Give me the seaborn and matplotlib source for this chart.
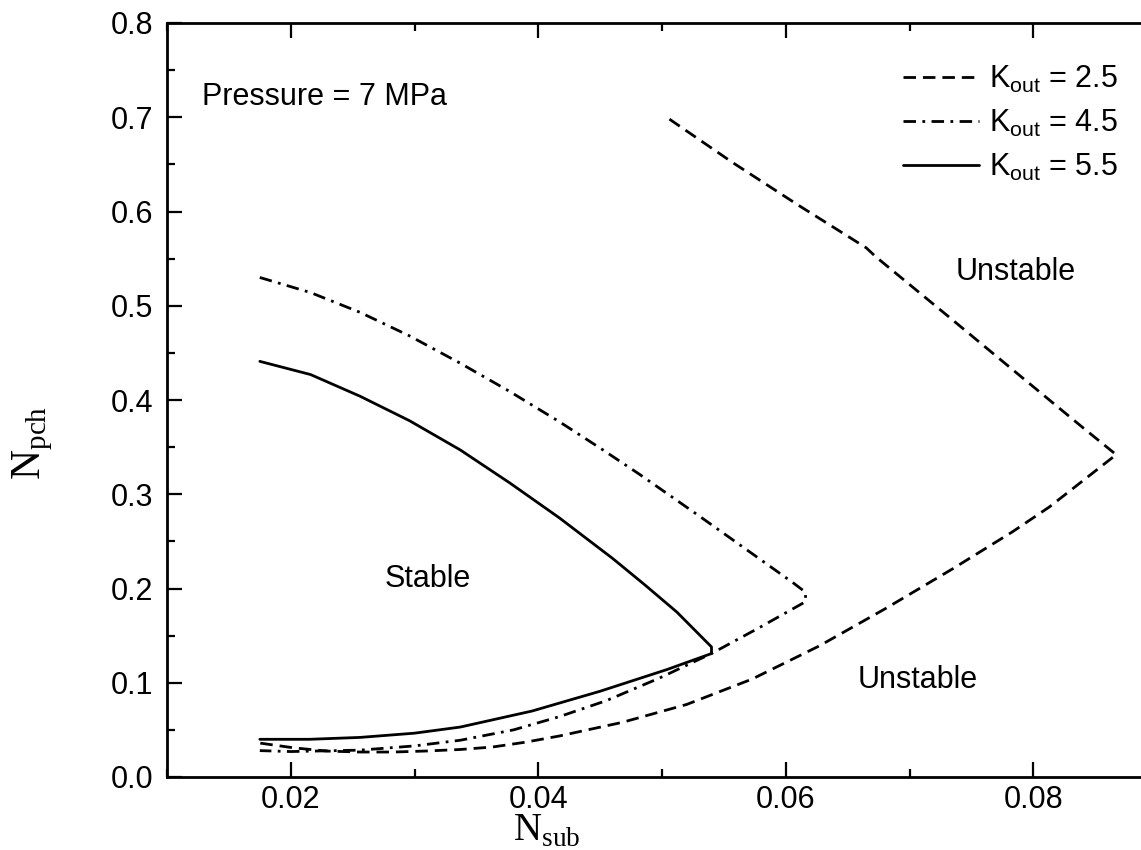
import numpy as np
import pandas as pd
import matplotlib
matplotlib.use("Agg")
import matplotlib.pyplot as plt
from matplotlib.ticker import MultipleLocator
import seaborn as sns

# ---------------- data ----------------
k25_x = [0.0506, 0.0557, 0.0611, 0.0665, 0.0673, 0.0732, 0.0786, 0.0840, 0.0867,
         0.0813, 0.0783, 0.0735, 0.0681, 0.0627, 0.0573, 0.0520, 0.0468, 0.0417,
         0.0390, 0.0363, 0.0337, 0.0310, 0.0283, 0.0256, 0.0229, 0.0202, 0.0175]
k25_y = [0.698, 0.652, 0.606, 0.5615, 0.5517, 0.488, 0.4293, 0.3708, 0.342,
         0.2865, 0.260, 0.221, 0.179, 0.139, 0.104, 0.077, 0.058, 0.0435,
         0.037, 0.0318, 0.0292, 0.0276, 0.0265, 0.0265, 0.0275, 0.031, 0.036]

k45_x = [0.0175, 0.0216, 0.0256, 0.0296, 0.0337, 0.0377, 0.0417, 0.0450, 0.0482,
         0.0530, 0.0575, 0.0606, 0.0616,
         0.0616, 0.0578, 0.0540, 0.0498, 0.0455, 0.0417, 0.0380, 0.0337, 0.0300,
         0.0256, 0.0200, 0.0175]
k45_y = [0.530, 0.514, 0.493, 0.468, 0.439, 0.409, 0.377, 0.349, 0.321,
         0.277, 0.235, 0.206, 0.196,
         0.186, 0.158, 0.131, 0.105, 0.081, 0.064, 0.050, 0.039, 0.033,
         0.0285, 0.027, 0.028]

k55_x = [0.0175, 0.0216, 0.0256, 0.0296, 0.0337, 0.0377, 0.0417, 0.0460, 0.0486,
         0.0512, 0.0540,
         0.0540, 0.0504, 0.0450, 0.0395, 0.0337, 0.0300, 0.0256, 0.0215, 0.0175]
k55_y = [0.441, 0.427, 0.404, 0.378, 0.347, 0.312, 0.275, 0.232, 0.204,
         0.175, 0.138,
         0.131, 0.114, 0.091, 0.070, 0.053, 0.0465, 0.042, 0.040, 0.040]

series_labels = [r"K$_{\mathrm{out}}$ = 2.5", r"K$_{\mathrm{out}}$ = 4.5", r"K$_{\mathrm{out}}$ = 5.5"]
x_ticks = [0.02, 0.04, 0.06, 0.08]
y_ticks = [0.0, 0.1, 0.2, 0.3, 0.4, 0.5, 0.6, 0.7, 0.8]

# ---------------- style ----------------
sns.set_style("white")
plt.rcParams["font.family"] = ["Liberation Sans", "DejaVu Sans"]
plt.rcParams["text.color"] = "black"
plt.rcParams["axes.labelcolor"] = "black"
plt.rcParams["xtick.color"] = "black"
plt.rcParams["ytick.color"] = "black"
plt.rcParams["mathtext.fontset"] = "custom"
plt.rcParams["mathtext.rm"] = "Liberation Sans"
plt.rcParams["mathtext.it"] = "Liberation Sans:italic"
plt.rcParams["mathtext.bf"] = "Liberation Sans:bold"
plt.rcParams["mathtext.cal"] = "Liberation Serif"

W, H = 1141, 850
fig = plt.figure(figsize=(W / 100, H / 100), dpi=100)
fig.patch.set_facecolor("white")
ax_left, ax_right, ax_top, ax_bottom = 167, 1157, 23, 777
ax = fig.add_axes([ax_left / W, (H - ax_bottom) / H,
                   (ax_right - ax_left) / W, (ax_bottom - ax_top) / H])

styles = [(0, (4.5, 2.5)), (0, (4.5, 2.3, 1.0, 2.3)), "-"]
curves = [(k25_x, k25_y), (k45_x, k45_y), (k55_x, k55_y)]
for (xs, ys), lab, ls in zip(curves, series_labels, styles):
    df = pd.DataFrame({"x": xs, "y": ys})
    sns.lineplot(data=df, x="x", y="y", sort=False, estimator=None, ax=ax,
                 color="black", linewidth=2.0, linestyle=ls, label=lab)

ax.set_xlim(0.01, 0.09)
ax.set_ylim(0.0, 0.8)
ax.set_xticks(x_ticks)
ax.set_xticklabels([f"{v:.2f}" for v in x_ticks])
ax.set_yticks(y_ticks)
ax.set_yticklabels([f"{v:.1f}" for v in y_ticks])
ax.xaxis.set_minor_locator(MultipleLocator(0.01))
ax.yaxis.set_minor_locator(MultipleLocator(0.05))
ax.tick_params(axis="both", which="major", direction="in", length=11, width=1.6,
               labelsize=22, pad=10, colors="black", top=True, bottom=True, left=True)
ax.tick_params(axis="x", which="major", pad=6)
ax.tick_params(axis="both", which="minor", direction="in", length=5.5, width=1.6,
               top=True, bottom=True, left=True)
for s in ["left", "bottom", "top", "right"]:
    ax.spines[s].set_linewidth(2.0)
    ax.spines[s].set_color("black")

ax.set_xlabel(r"$\mathcal{N}_{\mathcal{sub}}$", fontsize=28, va="bottom")
ax.set_ylabel(r"$\mathcal{N}_{\mathcal{pch}}$", fontsize=30)
ax.xaxis.set_label_coords((547 - ax_left) / (ax_right - ax_left), -(849 - ax_bottom) / (ax_bottom - ax_top))
ax.yaxis.set_label_coords((55 - ax_left) / (ax_right - ax_left), (777 - 443) / (ax_bottom - ax_top))

ax.text(0.01283, 0.7215, "Pressure = 7 MPa", fontsize=22, ha="left", va="center")
ax.text(0.0786, 0.536, "Unstable", fontsize=22, ha="center", va="center")
ax.text(0.0707, 0.103, "Unstable", fontsize=22, ha="center", va="center")
ax.text(0.0311, 0.21, "Stable", fontsize=22, ha="center", va="center")

leg = ax.legend(loc="upper left", bbox_to_anchor=((903 - ax_left) / (ax_right - ax_left), (777 - 64) / (ax_bottom - ax_top)),
                frameon=False, fontsize=22, handlelength=2.5, handletextpad=0.3,
                labelspacing=0.42, borderpad=0, borderaxespad=0)

fig.savefig("out.png", dpi=100, facecolor="white")
